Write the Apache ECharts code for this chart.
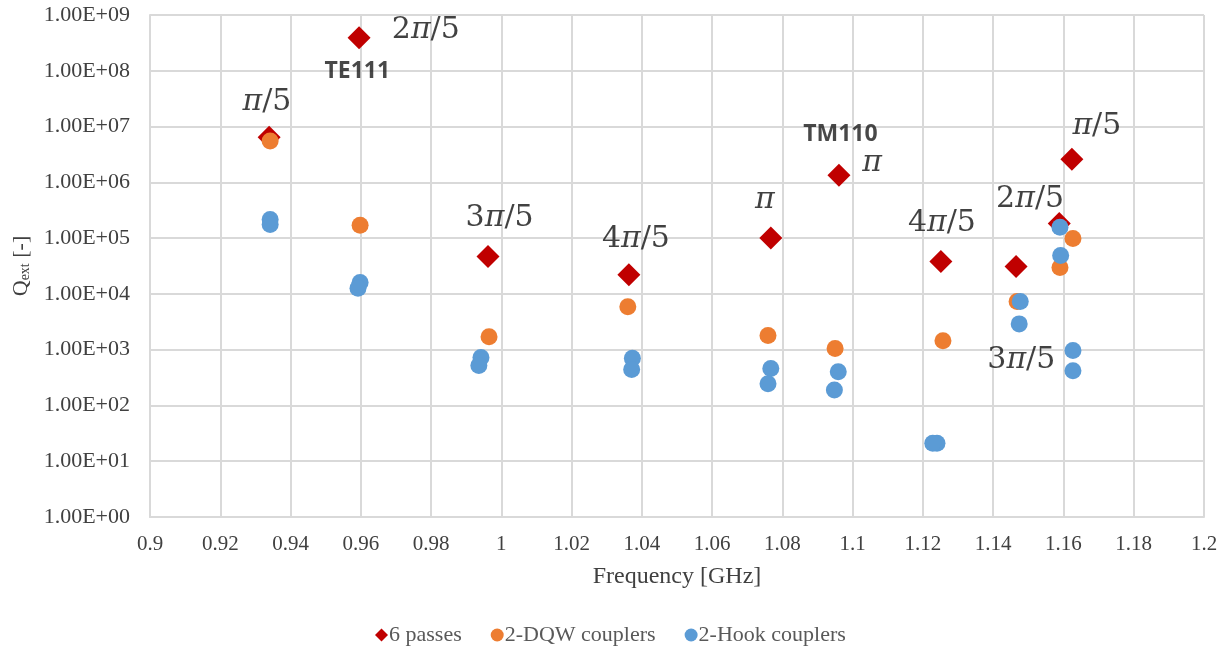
<!DOCTYPE html>
<html>
<head>
<meta charset="utf-8">
<script src="https://cdn.jsdelivr.net/npm/echarts@6/dist/echarts.min.js"></script>
<style>
  html, body { margin: 0; padding: 0; background: #fff; }
  #chart { width: 1217px; height: 651px; }
</style>
</head>
<body>
<div id="chart"></div>
<script>
// Frequency [GHz], Qext pairs for each coupling scheme
const sixPasses = [
  [0.9339, 6.4e6], [0.9595, 3.9e8], [0.9962, 4.7e4], [1.0363, 2.2e4],
  [1.0767, 1.0e5], [1.0961, 1.34e6], [1.1251, 3.8e4], [1.1465, 3.1e4],
  [1.1588, 1.83e5], [1.1624, 2.6e6]
];
const dqwCouplers = [
  [0.9342, 5.5e6], [0.9598, 1.7e5], [0.9965, 1.7e3], [1.0360, 5.9e3],
  [1.0759, 1.8e3], [1.0950, 1.05e3], [1.1257, 1.45e3], [1.1468, 7.3e3],
  [1.1590, 2.96e4], [1.1627, 9.8e4]
];
const hookCouplers = [
  [0.9342, 2.15e5], [0.9342, 1.75e5], [0.9598, 1.6e4], [0.9592, 1.26e4],
  [0.9942, 7.2e2], [0.9936, 5.2e2], [1.0373, 7.0e2], [1.0371, 4.4e2],
  [1.0767, 4.6e2], [1.0759, 2.45e2], [1.0959, 4.0e2], [1.0948, 1.9e2],
  [1.1240, 21], [1.1228, 21], [1.1477, 7.3e3], [1.1474, 2.9e3],
  [1.1590, 1.56e5], [1.1592, 4.9e4], [1.1627, 9.7e2], [1.1627, 4.2e2]
];

// Mode annotations: [frequency, Qext, text, kind]
const modeLabels = [
  [0.9333, 2.7e7, 'pi1', 'mode'],
  [0.9785, 5.4e8, 'pi2', 'mode'],
  [0.9995, 2.25e5, 'pi3', 'mode'],
  [1.0383, 9.5e4, 'pi4', 'mode'],
  [1.0750, 4.7e5, 'pi', 'mode'],
  [1.1055, 2.2e6, 'pi', 'mode'],
  [1.1254, 1.83e5, 'pi4', 'mode'],
  [1.1505, 4.9e5, 'pi2', 'mode'],
  [1.1480, 6.6e2, 'pi3', 'mode'],
  [1.1695, 1.0e7, 'pi1', 'mode'],
  [0.9590, 9.8e7, 'TE111', 'field'],
  [1.0965, 7.2e6, 'TM110', 'field']
];
const modeText = {
  pi1: '{i|π}{r|/5}',
  pi2: '{r|2}{i|π}{r|/5}',
  pi3: '{r|3}{i|π}{r|/5}',
  pi4: '{r|4}{i|π}{r|/5}',
  pi: '{i|π}'
};

const xTickLabels = ['0.9', '0.92', '0.94', '0.96', '0.98', '1', '1.02', '1.04', '1.06',
  '1.08', '1.1', '1.12', '1.14', '1.16', '1.18', '1.2'];
const yTickLabels = ['1.00E+00', '1.00E+01', '1.00E+02', '1.00E+03', '1.00E+04',
  '1.00E+05', '1.00E+06', '1.00E+07', '1.00E+08', '1.00E+09'];

const serif = '"Liberation Serif", "Times New Roman", serif';
const mathFont = '"DejaVu Serif", serif';
const gridColor = '#d9d9d9';
const textColor = '#404040';

const chart = echarts.init(document.getElementById('chart'));

chart.setOption({
  animation: false,
  backgroundColor: '#fff',
  grid: { left: 150, right: 13, top: 15, bottom: 134, containLabel: false, outerBoundsMode: 'none' },
  legend: {
    bottom: 0,
    left: 370,
    itemWidth: 13,
    itemHeight: 13,
    itemGap: 29,
    icon: 'circle',
    textStyle: { fontFamily: serif, fontSize: 22, color: '#595959', padding: [0, 0, 0, -4] },
    data: [
      { name: '6 passes', icon: 'diamond' },
      { name: '2-DQW couplers', icon: 'circle' },
      { name: '2-Hook couplers', icon: 'circle' }
    ]
  },
  xAxis: {
    type: 'value',
    min: 0.9,
    max: 1.2,
    interval: 0.02,
    name: 'Frequency [GHz]',
    nameLocation: 'middle',
    nameGap: 48,
    nameTextStyle: { fontFamily: serif, fontSize: 24, color: textColor },
    axisLine: { show: true, lineStyle: { color: gridColor, width: 2 } },
    axisTick: { show: false },
    splitLine: { show: true, lineStyle: { color: gridColor, width: 2 } },
    axisLabel: {
      fontFamily: serif, fontSize: 21, color: textColor, margin: 17,
      formatter: v => xTickLabels[Math.round((v - 0.9) / 0.02)]
    }
  },
  yAxis: {
    type: 'log',
    logBase: 10,
    min: 1,
    max: 1e9,
    name: '{q|Q}{s|ext}{q| [-]}',
    nameLocation: 'middle',
    nameGap: 100,
    nameRotate: 90,
    nameTextStyle: {
      rich: {
        q: { fontFamily: serif, fontSize: 22, color: textColor },
        s: { fontFamily: serif, fontSize: 14, color: textColor, verticalAlign: 'bottom', padding: [10, 0, 0, 0] }
      }
    },
    axisLine: { show: true, lineStyle: { color: gridColor, width: 2 } },
    axisTick: { show: false },
    splitLine: { show: true, lineStyle: { color: gridColor, width: 2 } },
    axisLabel: {
      fontFamily: serif, fontSize: 22, color: textColor, margin: 20,
      formatter: v => yTickLabels[Math.round(Math.log10(v))]
    }
  },
  series: [
    {
      name: '6 passes',
      type: 'scatter',
      symbol: 'diamond',
      symbolSize: 23,
      itemStyle: { color: '#C00000', opacity: 1 },
      data: sixPasses,
      z: 2
    },
    {
      name: '2-DQW couplers',
      type: 'scatter',
      symbol: 'circle',
      symbolSize: 17,
      itemStyle: { color: '#ED7D31', opacity: 1 },
      data: dqwCouplers,
      z: 3
    },
    {
      name: '2-Hook couplers',
      type: 'scatter',
      symbol: 'circle',
      symbolSize: 17,
      itemStyle: { color: '#5B9BD5', opacity: 1 },
      data: hookCouplers,
      z: 4
    },
    {
      name: 'annotations',
      type: 'scatter',
      symbolSize: 0,
      silent: true,
      legendHoverLink: false,
      z: 5,
      data: modeLabels.map(d => ({
        value: [d[0], d[1]],
        label: d[3] === 'field'
          ? {
              show: true, position: 'inside', formatter: d[2],
              fontFamily: '"Open Sans", "Noto Sans", sans-serif', fontWeight: 'bold',
              fontSize: 23, color: '#1a1a1a'
            }
          : {
              show: true, position: 'inside', formatter: modeText[d[2]],
              rich: {
                i: { fontFamily: mathFont, fontStyle: 'italic', fontSize: 30, color: '#111' },
                r: { fontFamily: mathFont, fontSize: 30, color: '#111' }
              }
            }
      }))
    }
  ]
});
</script>
</body>
</html>
